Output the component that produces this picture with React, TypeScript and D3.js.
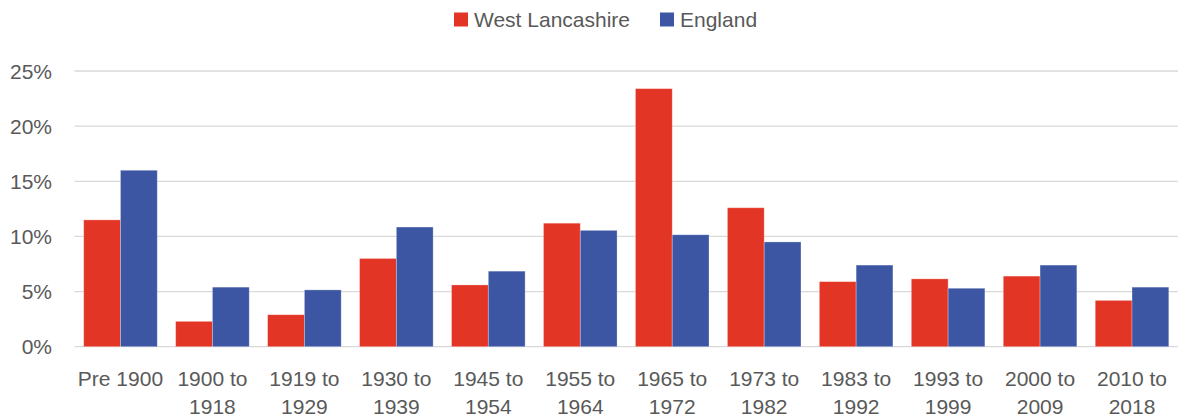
import * as d3 from "d3";
import { useEffect, useRef } from "react";

const categories = [
  "Pre 1900",
  "1900 to 1918",
  "1919 to 1929",
  "1930 to 1939",
  "1945 to 1954",
  "1955 to 1964",
  "1965 to 1972",
  "1973 to 1982",
  "1983 to 1992",
  "1993 to 1999",
  "2000 to 2009",
  "2010 to 2018",
];
const westLancashire = [11.5, 2.3, 2.9, 8.0, 5.6, 11.2, 23.4, 12.6, 5.9, 6.15, 6.4, 4.2];
const england = [16.0, 5.4, 5.15, 10.85, 6.85, 10.55, 10.15, 9.5, 7.4, 5.3, 7.4, 5.4];
const seriesNames = ["West Lancashire", "England"];
const seriesColors = ["#E33526", "#3C56A3"];
const yTicks = [0, 5, 10, 15, 20, 25];

const width = 1178;
const height = 419;
const marginLeft = 74.5;
const marginRight = 0;
const marginTop = 71;
const marginBottom = 72.3;
const font = "'Liberation Sans', Arial, sans-serif";
const textColor = "#595959";

export default function App() {
  const axisRef = useRef<SVGGElement>(null);

  // one band per category, bars take 80% of it (Excel gap width 25% each side)
  const x0 = d3.scaleBand(categories, [marginLeft, width - marginRight]).padding(0);
  const step = x0.bandwidth();
  const groupW = step * 0.8;
  const xs = d3.scaleBand(seriesNames, [0, groupW]);
  const y = d3.scaleLinear([0, 25], [height - marginBottom, marginTop]);

  const series = [westLancashire, england];

  useEffect(() => {
    if (!axisRef.current) return;
    const g = d3.select(axisRef.current);
    g.selectAll("*").remove();
    const labels = g
      .selectAll("text")
      .data(categories)
      .join("text")
      .attr("x", (d) => (x0(d) as number) + step / 2)
      .attr("y", height - marginBottom + 39.5)
      .attr("text-anchor", "middle")
      .attr("font-family", font)
      .attr("font-size", 21)
      .attr("fill", textColor);
    labels.each(function (d) {
      const parts = d.includes(" to ") ? [d.split(" to ")[0] + " to", d.split(" to ")[1]] : [d];
      d3.select(this)
        .selectAll("tspan")
        .data(parts)
        .join("tspan")
        .attr("x", (x0(d) as number) + step / 2)
        .attr("dy", (_, i) => (i === 0 ? 0 : 28))
        .text((p) => p);
    });
  }, []);

  return (
    <svg
      width={width}
      height={height}
      style={{ position: "absolute", left: 0, top: 0, background: "#fff" }}
    >
      {/* gridlines */}
      {yTicks.map((t) => (
        <g key={t}>
          <line
            x1={marginLeft}
            x2={width - marginRight}
            y1={y(t)}
            y2={y(t)}
            stroke="#D9D9D9"
            strokeWidth={1.3}
          />
          <text
            x={52}
            y={y(t) + 7.5}
            textAnchor="end"
            fontFamily={font}
            fontSize={21}
            fill={textColor}
          >
            {t}%
          </text>
        </g>
      ))}

      {/* bars */}
      {categories.map((c, i) => (
        <g key={c} transform={`translate(${(x0(c) as number) + (step - groupW) / 2},0)`}>
          {series.map((s, j) => (
            <rect
              key={j}
              x={xs(seriesNames[j])}
              y={y(s[i])}
              width={xs.bandwidth()}
              height={y(0) - y(s[i])}
              fill={seriesColors[j]}
              stroke="#ffffff"
              strokeOpacity={0.35}
              strokeWidth={0.8}
            />
          ))}
        </g>
      ))}

      <g ref={axisRef} />

      {/* legend */}
      <rect x={454} y={12.5} width={14} height={14} fill={seriesColors[0]} />
      <text x={474} y={27} fontFamily={font} fontSize={21} fill={textColor}>
        {seriesNames[0]}
      </text>
      <rect x={660} y={12.5} width={14} height={14} fill={seriesColors[1]} />
      <text x={680} y={27} fontFamily={font} fontSize={21} fill={textColor}>
        {seriesNames[1]}
      </text>
    </svg>
  );
}
